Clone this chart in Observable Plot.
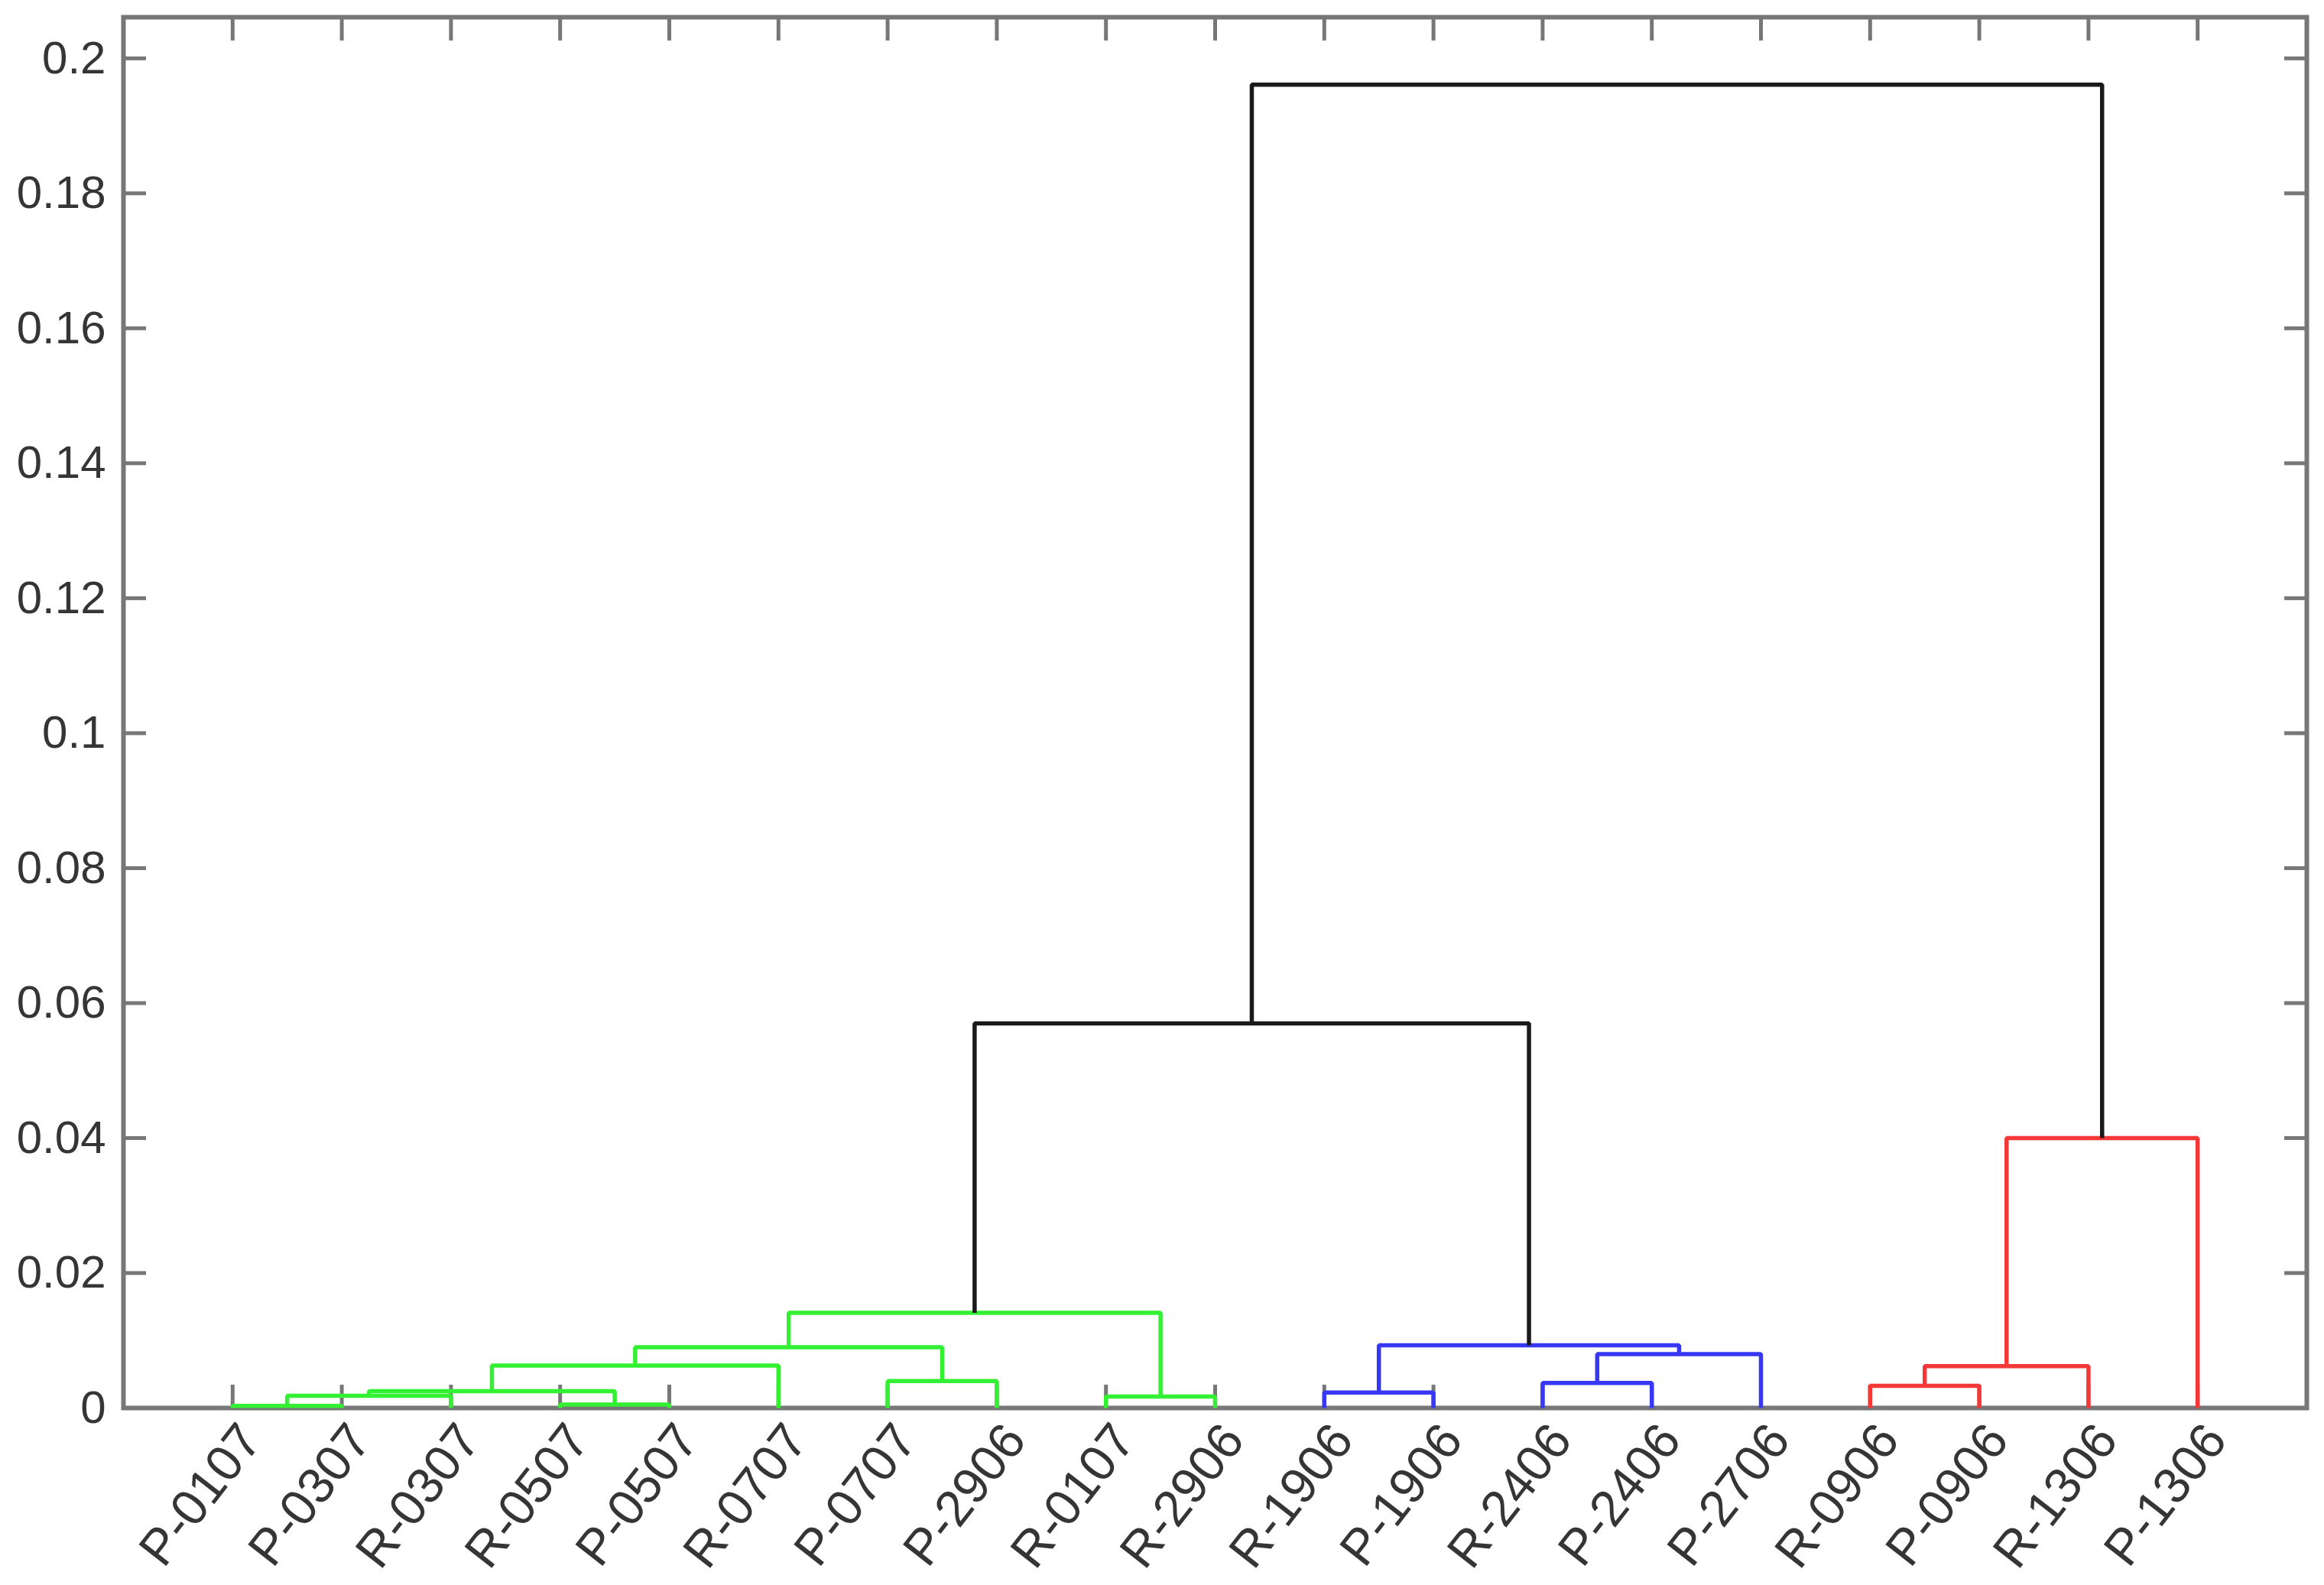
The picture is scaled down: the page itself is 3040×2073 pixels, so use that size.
<!DOCTYPE html>
<html>
<head>
<meta charset="utf-8">
<script src="https://cdn.jsdelivr.net/npm/d3@7"></script>
<script src="https://cdn.jsdelivr.net/npm/@observablehq/plot@0.6"></script>
<style>
html, body { margin: 0; padding: 0; background: #fff; }
</style>
</head>
<body>
<div id="chart"></div>
<script>
// Leaf labels in dendrogram order (positions 1..19)
const leaves = ["P-0107","P-0307","R-0307","R-0507","P-0507","R-0707","P-0707","P-2906","R-0107","R-2906",
                "R-1906","P-1906","R-2406","P-2406","P-2706","R-0906","P-0906","R-1306","P-1306"];
const leafPositions = [1,2,3,4,5,6,7,8,9,10,11,12,13,14,15,16,17,18,19];

// Linkage (0-based: 0..18 leaves, 19+ merge nodes in the order below)
const mergeLeft   = [0, 3, 19,  8, 10, 21, 15, 12, 6, 25, 24, 26, 29, 23, 31, 28, 33, 34];
const mergeRight  = [1, 4,  2,  9, 11, 20, 16, 13, 7, 17,  5, 14, 27, 30, 22, 18, 32, 35];
const mergeHeight = [0.0003, 0.0005, 0.0018, 0.0017, 0.0023, 0.0025, 0.0033, 0.0037, 0.0040, 0.0062,
                     0.0063, 0.0080, 0.0090, 0.0093, 0.0141, 0.0400, 0.0570, 0.1961];
const mergeGroup  = ["green","green","green","green","blue","green","red","blue","green","red",
                     "green","blue","green","blue","green","red","black","black"];

const yTicks = [0, 0.02, 0.04, 0.06, 0.08, 0.1, 0.12, 0.14, 0.16, 0.18, 0.2];
const yTickLabels = ["0","0.02","0.04","0.06","0.08","0.1","0.12","0.14","0.16","0.18","0.2"];

const groupColors = {green: "#33f033", blue: "#3838f4", red: "#f43838", black: "#1a1a1a"};

// Node coordinates from the linkage
const nodeX = leafPositions.slice();
const nodeY = leafPositions.map(() => 0);
mergeLeft.forEach((l, k) => {
  nodeX.push((nodeX[l] + nodeX[mergeRight[k]]) / 2);
  nodeY.push(mergeHeight[k]);
});
const segs = [];
mergeLeft.forEach((l, k) => {
  const r = mergeRight[k], h = mergeHeight[k], g = mergeGroup[k];
  segs.push({id: k, g, x: nodeX[l], y: nodeY[l]});
  segs.push({id: k, g, x: nodeX[l], y: h});
  segs.push({id: k, g, x: nodeX[r], y: h});
  segs.push({id: k, g, x: nodeX[r], y: nodeY[r]});
});

const font = "'Liberation Sans', Arial, Helvetica, sans-serif";
const axisGray = "#777777";
const textGray = "#353535";

const plot = Plot.plot({
  width: 3040,
  height: 2073,
  marginLeft: 161,
  marginRight: 23,
  marginTop: 22,
  marginBottom: 232,
  style: {background: "#fff", fontFamily: font},
  x: {domain: [0, 20]},
  y: {domain: [0, 0.2061]},
  color: {type: "identity"},
  marks: [
    Plot.frame({stroke: axisGray, strokeWidth: 6}),
    // inward ticks
    Plot.axisY({anchor: "left", ticks: yTicks, tickSize: -30, tickFormat: () => "", stroke: axisGray, strokeWidth: 5, label: null}),
    Plot.axisY({anchor: "right", ticks: yTicks, tickSize: -30, tickFormat: () => "", stroke: axisGray, strokeWidth: 5, label: null}),
    Plot.axisX({anchor: "bottom", ticks: leafPositions, tickSize: -30, tickFormat: () => "", stroke: axisGray, strokeWidth: 5, label: null}),
    Plot.axisX({anchor: "top", ticks: leafPositions, tickSize: -30, tickFormat: () => "", stroke: axisGray, strokeWidth: 5, label: null}),
    // tick labels
    Plot.axisY({anchor: "left", ticks: yTicks, tickSize: 0, tickPadding: 23,
                tickFormat: d => yTickLabels[yTicks.indexOf(d)], fontSize: 60, fill: textGray, label: null}),
    Plot.axisX({anchor: "bottom", ticks: leafPositions, tickSize: 0, tickPadding: 30, dx: 24, tickRotate: -52,
                tickFormat: d => leaves[d - 1], fontSize: 66, fill: textGray, label: null}),
    // dendrogram
    Plot.line(segs, {x: "x", y: "y", z: "id", stroke: d => groupColors[d.g], strokeWidth: 5.5, strokeLinejoin: "miter", strokeLinecap: "butt"})
  ]
});
document.getElementById("chart").appendChild(plot);
</script>
</body>
</html>
